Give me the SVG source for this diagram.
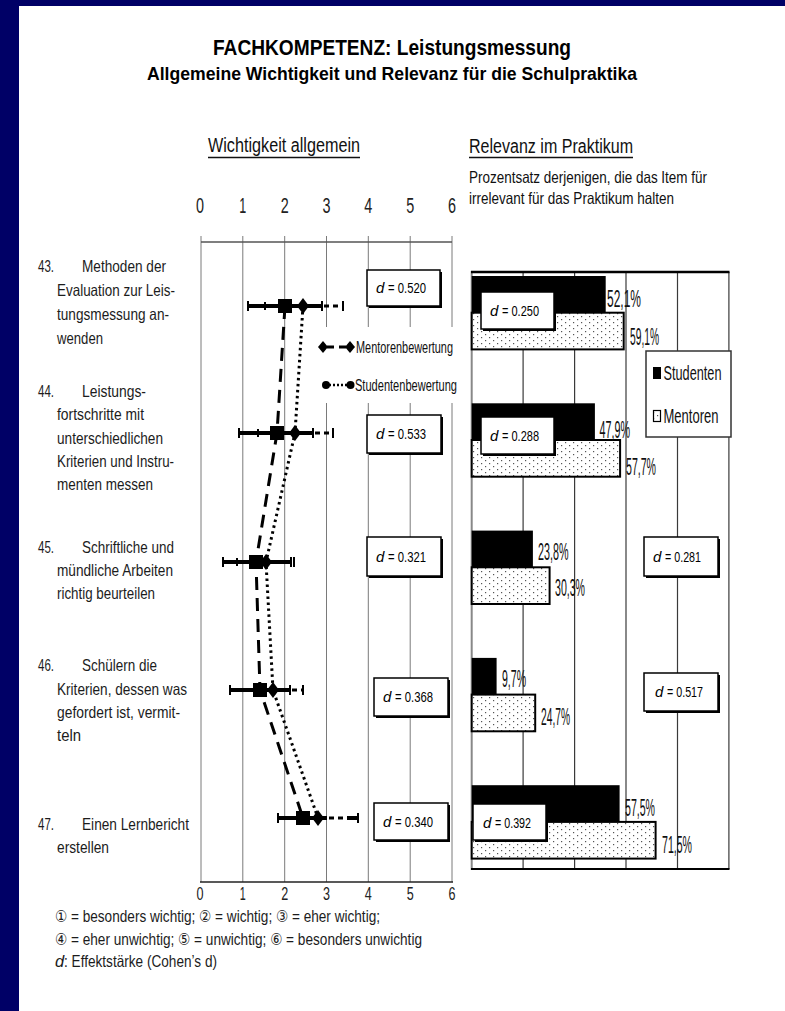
<svg xmlns="http://www.w3.org/2000/svg" width="785" height="1011" viewBox="0 0 785 1011">
<style>
text { font-family: "Liberation Sans", Arial, "DejaVu Sans", sans-serif; fill: #111; }
.title { font-weight: bold; font-size: 22px; fill: #000; }
.sub { font-weight: bold; font-size: 19px; fill: #000; }
.head { font-size: 20px; fill: #111; }
.note { font-size: 16.5px; }
.lbl { font-size: 16.5px; fill: #1c1c1c; }
.tick { font-size: 22px; text-anchor: middle; fill: #222; }
.tickb { font-size: 19px; text-anchor: middle; fill: #222; }
.dtx { font-size: 15px; fill: #000; }
.di { font-size: 15px; fill: #000; font-style: italic; }
.pct { font-size: 23px; fill: #111; }
.leg { font-size: 17px; fill: #111; }
.leg2 { font-size: 20px; fill: #111; }
.fn { font-size: 16.5px; fill: #1c1c1c; }
.grid { stroke: #7a7a7a; stroke-width: 1; }
.gridr { stroke: #3a3a3a; stroke-width: 1.2; }
.bar { fill: #000; }
.mbar { fill: url(#dots); stroke: #000; stroke-width: 2; }
.eb { stroke: #000; stroke-width: 4; }
.cap { stroke: #000; stroke-width: 2; }
.ebd { stroke: #000; stroke-width: 3; stroke-dasharray: 5 4; }
.dbox { fill: #fff; stroke: #000; stroke-width: 1.5; }
.shadow { fill: #000; }
.mline { fill: none; stroke: #000; stroke-width: 3; stroke-dasharray: 13 8; }
.sline { fill: none; stroke: #000; stroke-width: 3; stroke-dasharray: 2.5 3.5; }
.ul { stroke: #111; stroke-width: 1.5; }
</style>
<defs>
  <pattern id="dots" width="8" height="6" patternUnits="userSpaceOnUse">
    <rect width="8" height="6" fill="#fff"/>
    <rect x="1" y="1" width="1.2" height="1.2" fill="#555"/>
    <rect x="5" y="4" width="1.2" height="1.2" fill="#555"/>
  </pattern>
</defs>

<!-- frame -->
<rect x="0" y="0" width="785" height="1011" fill="#000066"/>
<rect x="19" y="6" width="766" height="1005" fill="#ffffff"/>

<!-- titles -->
<g id="titles">
  <text class="title" x="213" y="55" textLength="358" lengthAdjust="spacingAndGlyphs">FACHKOMPETENZ: Leistungsmessung</text>
  <text class="sub" x="147" y="80" textLength="490" lengthAdjust="spacingAndGlyphs">Allgemeine Wichtigkeit und Relevanz für die Schulpraktika</text>
  <text class="head" x="208" y="152" textLength="152" lengthAdjust="spacingAndGlyphs">Wichtigkeit allgemein</text>
  <line class="ul" x1="208" y1="157.5" x2="360" y2="157.5"/>
  <text class="head" x="469" y="153" textLength="164" lengthAdjust="spacingAndGlyphs">Relevanz im Praktikum</text>
  <line class="ul" x1="469" y1="157.5" x2="633" y2="157.5"/>
  <text class="note" x="469" y="182.5" textLength="238" lengthAdjust="spacingAndGlyphs">Prozentsatz derjenigen, die das Item für</text>
  <text class="note" x="469" y="204" textLength="205" lengthAdjust="spacingAndGlyphs">irrelevant für das Praktikum halten</text>
</g>

<!-- left chart axes -->
<g id="left-axes">
  <line class="grid" x1="201" y1="236" x2="201" y2="882"/>
  <line class="grid" x1="242.8" y1="236" x2="242.8" y2="882"/>
  <line class="grid" x1="284.7" y1="236" x2="284.7" y2="882"/>
  <line class="grid" x1="326.5" y1="236" x2="326.5" y2="882"/>
  <line class="grid" x1="368.3" y1="236" x2="368.3" y2="882"/>
  <line class="grid" x1="410.2" y1="236" x2="410.2" y2="882"/>
  <line class="grid" x1="452" y1="236" x2="452" y2="882"/>
  <line x1="201" y1="242" x2="452" y2="242" stroke="#555" stroke-width="1.3"/>
  <line x1="200" y1="882" x2="453" y2="882" stroke="#222" stroke-width="1.5"/>
  <text class="tick" x="200" y="213" textLength="8" lengthAdjust="spacingAndGlyphs">0</text>
  <text class="tick" x="242.8" y="213" textLength="7" lengthAdjust="spacingAndGlyphs">1</text>
  <text class="tick" x="284.7" y="213" textLength="8" lengthAdjust="spacingAndGlyphs">2</text>
  <text class="tick" x="326.5" y="213" textLength="8" lengthAdjust="spacingAndGlyphs">3</text>
  <text class="tick" x="368.3" y="213" textLength="8" lengthAdjust="spacingAndGlyphs">4</text>
  <text class="tick" x="410.2" y="213" textLength="8" lengthAdjust="spacingAndGlyphs">5</text>
  <text class="tick" x="452" y="213" textLength="8" lengthAdjust="spacingAndGlyphs">6</text>
  <text class="tickb" x="200" y="900" textLength="7" lengthAdjust="spacingAndGlyphs">0</text>
  <text class="tickb" x="242.8" y="900" textLength="6" lengthAdjust="spacingAndGlyphs">1</text>
  <text class="tickb" x="284.7" y="900" textLength="7" lengthAdjust="spacingAndGlyphs">2</text>
  <text class="tickb" x="326.5" y="900" textLength="7" lengthAdjust="spacingAndGlyphs">3</text>
  <text class="tickb" x="368.3" y="900" textLength="7" lengthAdjust="spacingAndGlyphs">4</text>
  <text class="tickb" x="410.2" y="900" textLength="7" lengthAdjust="spacingAndGlyphs">5</text>
  <text class="tickb" x="452" y="900" textLength="7" lengthAdjust="spacingAndGlyphs">6</text>
</g>

<!-- right chart axes -->
<g id="right-axes">
  <line class="gridr" x1="523.1" y1="272" x2="523.1" y2="869"/>
  <line class="gridr" x1="574.6" y1="272" x2="574.6" y2="869"/>
  <line class="gridr" x1="626" y1="272" x2="626" y2="869"/>
  <line class="gridr" x1="677.5" y1="272" x2="677.5" y2="869"/>
  <line class="gridr" x1="728.9" y1="272" x2="728.9" y2="869"/>
  <line x1="471.7" y1="271" x2="471.7" y2="870" stroke="#888" stroke-width="2"/>
  <line x1="471" y1="272" x2="729.5" y2="272" stroke="#000" stroke-width="2.5"/>
  <line x1="471" y1="869" x2="729.5" y2="869" stroke="#000" stroke-width="2"/>
</g>

<!-- connectors: profile lines -->
<g id="connectors">
  <polyline class="mline" points="285,306 277,433 256,562 260,690 303,818"/>
  <polyline class="sline" points="303,306 295,433 266,562 273,690 318,818"/>
</g>

<!-- legend left -->
<g id="legend-left">
  <rect x="318" y="327" width="143" height="76" fill="#fff"/>
  <line x1="327" y1="347" x2="346" y2="347" stroke="#000" stroke-width="3" stroke-dasharray="7 5"/>
  <polygon points="323,341 328,347 323,353 318,347" fill="#000"/>
  <polygon points="350,341 355,347 350,353 345,347" fill="#000"/>
  <text class="leg" x="356" y="353" textLength="97" lengthAdjust="spacingAndGlyphs">Mentorenbewertung</text>
  <line x1="329" y1="385" x2="347" y2="385" stroke="#000" stroke-width="2.5" stroke-dasharray="2 2"/>
  <ellipse cx="326" cy="385" rx="4" ry="4" fill="#000"/>
  <ellipse cx="350.5" cy="385" rx="4" ry="4" fill="#000"/>
  <text class="leg" x="355" y="391" textLength="102" lengthAdjust="spacingAndGlyphs">Studentenbewertung</text>
</g>

<!-- legend right -->
<g id="legend-right">
  <rect x="646" y="351" width="85" height="86" fill="#fff" stroke="#333" stroke-width="1.5"/>
  <rect x="653" y="367" width="8" height="12" fill="#000"/>
  <text class="leg2" x="663.5" y="380" textLength="58" lengthAdjust="spacingAndGlyphs">Studenten</text>
  <rect x="653.5" y="410.5" width="7" height="11" fill="url(#dots)" stroke="#000" stroke-width="1.2"/>
  <text class="leg2" x="663.5" y="423" textLength="55" lengthAdjust="spacingAndGlyphs">Mentoren</text>
</g>

<!-- item 43 -->
<g id="item43">
  <text class="lbl" x="38" y="272" textLength="16" lengthAdjust="spacingAndGlyphs">43.</text>
  <text class="lbl" x="82" y="272" textLength="84" lengthAdjust="spacingAndGlyphs">Methoden der</text>
  <text class="lbl" x="57" y="296" textLength="118" lengthAdjust="spacingAndGlyphs">Evaluation zur Leis-</text>
  <text class="lbl" x="57" y="320" textLength="112" lengthAdjust="spacingAndGlyphs">tungsmessung an-</text>
  <text class="lbl" x="57" y="344" textLength="46" lengthAdjust="spacingAndGlyphs">wenden</text>
  <line class="eb" x1="248" y1="306" x2="322" y2="306"/>
  <line class="cap" x1="248" y1="301" x2="248" y2="311"/>
  <line class="cap" x1="322" y1="301" x2="322" y2="311"/>
  <line class="cap" x1="265" y1="302" x2="265" y2="310"/>
  <line class="ebd" x1="324" y1="306" x2="343" y2="306"/>
  <line class="cap" x1="343" y1="301" x2="343" y2="311"/>
  <rect x="278" y="299" width="14" height="14" fill="#000"/>
  <polygon points="303,298 309,306 303,314 297,306" fill="#000"/>
  <rect class="shadow" x="369" y="272" width="73" height="36"/>
  <rect class="dbox" x="367" y="270" width="73" height="36"/>
  <text class="di" x="376" y="293">d</text>
  <text class="dtx" x="388" y="293" textLength="38" lengthAdjust="spacingAndGlyphs">= 0.520</text>
  <rect class="bar" x="471.7" y="276" width="134" height="36.7"/>
  <rect class="mbar" x="471.7" y="312.7" width="152" height="36.7"/>
  <text class="pct" x="607" y="306.5" textLength="34" lengthAdjust="spacingAndGlyphs">52,1%</text>
  <text class="pct" x="630" y="345" textLength="29" lengthAdjust="spacingAndGlyphs">59,1%</text>
  <rect class="shadow" x="483" y="294" width="73" height="37"/>
  <rect class="dbox" x="481" y="292" width="73" height="37"/>
  <text class="di" x="490" y="315.5">d</text>
  <text class="dtx" x="502" y="315.5" textLength="37" lengthAdjust="spacingAndGlyphs">= 0.250</text>
</g>

<!-- item 44 -->
<g id="item44">
  <text class="lbl" x="38" y="397" textLength="16" lengthAdjust="spacingAndGlyphs">44.</text>
  <text class="lbl" x="82" y="397" textLength="64" lengthAdjust="spacingAndGlyphs">Leistungs-</text>
  <text class="lbl" x="57" y="420" textLength="87" lengthAdjust="spacingAndGlyphs">fortschritte mit</text>
  <text class="lbl" x="57" y="444" textLength="106" lengthAdjust="spacingAndGlyphs">unterschiedlichen</text>
  <text class="lbl" x="57" y="467" textLength="117" lengthAdjust="spacingAndGlyphs">Kriterien und Instru-</text>
  <text class="lbl" x="57" y="490" textLength="96" lengthAdjust="spacingAndGlyphs">menten messen</text>
  <line class="eb" x1="239" y1="433" x2="313" y2="433"/>
  <line class="cap" x1="239" y1="428" x2="239" y2="438"/>
  <line class="cap" x1="313" y1="428" x2="313" y2="438"/>
  <line class="cap" x1="258" y1="429" x2="258" y2="437"/>
  <line class="ebd" x1="315" y1="433" x2="333" y2="433"/>
  <line class="cap" x1="333" y1="428" x2="333" y2="438"/>
  <rect x="270" y="426" width="14" height="14" fill="#000"/>
  <polygon points="295,425 301,433 295,441 289,433" fill="#000"/>
  <rect class="shadow" x="369" y="417" width="74" height="38"/>
  <rect class="dbox" x="367" y="415" width="74" height="38"/>
  <text class="di" x="376" y="439">d</text>
  <text class="dtx" x="388" y="439" textLength="38" lengthAdjust="spacingAndGlyphs">= 0.533</text>
  <rect class="bar" x="471.7" y="403.3" width="123.2" height="36.7"/>
  <rect class="mbar" x="471.7" y="440" width="148.4" height="36.7"/>
  <text class="pct" x="599.5" y="438" textLength="30.5" lengthAdjust="spacingAndGlyphs">47,9%</text>
  <text class="pct" x="626" y="475" textLength="30" lengthAdjust="spacingAndGlyphs">57,7%</text>
  <rect class="shadow" x="483" y="419" width="73" height="37"/>
  <rect class="dbox" x="481" y="417" width="73" height="37"/>
  <text class="di" x="490" y="440.5">d</text>
  <text class="dtx" x="502" y="440.5" textLength="37" lengthAdjust="spacingAndGlyphs">= 0.288</text>
</g>

<!-- item 45 -->
<g id="item45">
  <text class="lbl" x="38" y="553" textLength="16" lengthAdjust="spacingAndGlyphs">45.</text>
  <text class="lbl" x="82" y="553" textLength="92" lengthAdjust="spacingAndGlyphs">Schriftliche und</text>
  <text class="lbl" x="57" y="576" textLength="116" lengthAdjust="spacingAndGlyphs">mündliche Arbeiten</text>
  <text class="lbl" x="57" y="599" textLength="98" lengthAdjust="spacingAndGlyphs">richtig beurteilen</text>
  <line class="eb" x1="223" y1="562" x2="291" y2="562"/>
  <line class="cap" x1="223" y1="557" x2="223" y2="567"/>
  <line class="cap" x1="291" y1="557" x2="291" y2="567"/>
  <line class="cap" x1="237" y1="558" x2="237" y2="566"/>
  <line class="cap" x1="294" y1="557" x2="294" y2="567"/>
  <rect x="249" y="555" width="14" height="14" fill="#000"/>
  <polygon points="266,554 272,562 266,570 260,562" fill="#000"/>
  <rect class="shadow" x="369" y="539" width="74" height="39"/>
  <rect class="dbox" x="367" y="537" width="74" height="39"/>
  <text class="di" x="376" y="561.5">d</text>
  <text class="dtx" x="388" y="561.5" textLength="38" lengthAdjust="spacingAndGlyphs">= 0.321</text>
  <rect class="bar" x="471.7" y="530.6" width="61.2" height="36.7"/>
  <rect class="mbar" x="471.7" y="567.3" width="77.9" height="36.7"/>
  <text class="pct" x="538" y="560" textLength="30.5" lengthAdjust="spacingAndGlyphs">23,8%</text>
  <text class="pct" x="555" y="596" textLength="30" lengthAdjust="spacingAndGlyphs">30,3%</text>
  <rect class="shadow" x="646" y="539" width="74" height="39"/>
  <rect class="dbox" x="644" y="537" width="74" height="39"/>
  <text class="di" x="653" y="561.5">d</text>
  <text class="dtx" x="665" y="561.5" textLength="36" lengthAdjust="spacingAndGlyphs">= 0.281</text>
</g>

<!-- item 46 -->
<g id="item46">
  <text class="lbl" x="38" y="671" textLength="16" lengthAdjust="spacingAndGlyphs">46.</text>
  <text class="lbl" x="82" y="671" textLength="75" lengthAdjust="spacingAndGlyphs">Schülern die</text>
  <text class="lbl" x="57" y="695" textLength="130" lengthAdjust="spacingAndGlyphs">Kriterien, dessen was</text>
  <text class="lbl" x="57" y="718" textLength="123" lengthAdjust="spacingAndGlyphs">gefordert ist, vermit-</text>
  <text class="lbl" x="57" y="741" textLength="24" lengthAdjust="spacingAndGlyphs">teln</text>
  <line class="eb" x1="230" y1="690" x2="290" y2="690"/>
  <line class="cap" x1="230" y1="685" x2="230" y2="695"/>
  <line class="cap" x1="290" y1="685" x2="290" y2="695"/>
  <line class="ebd" x1="292" y1="690" x2="303" y2="690"/>
  <line class="cap" x1="303" y1="685" x2="303" y2="695"/>
  <rect x="253" y="683" width="14" height="14" fill="#000"/>
  <polygon points="273,682 279,690 273,698 267,690" fill="#000"/>
  <rect class="shadow" x="376" y="680" width="74" height="38"/>
  <rect class="dbox" x="374" y="678" width="74" height="38"/>
  <text class="di" x="383" y="702">d</text>
  <text class="dtx" x="395" y="702" textLength="38" lengthAdjust="spacingAndGlyphs">= 0.368</text>
  <rect class="bar" x="471.7" y="657.9" width="24.9" height="36.7"/>
  <rect class="mbar" x="471.7" y="694.6" width="63.5" height="36.7"/>
  <text class="pct" x="502" y="686.5" textLength="24" lengthAdjust="spacingAndGlyphs">9,7%</text>
  <text class="pct" x="541" y="725" textLength="29" lengthAdjust="spacingAndGlyphs">24,7%</text>
  <rect class="shadow" x="646" y="675" width="74" height="38"/>
  <rect class="dbox" x="644" y="673" width="74" height="38"/>
  <text class="di" x="655" y="697">d</text>
  <text class="dtx" x="667" y="697" textLength="36" lengthAdjust="spacingAndGlyphs">= 0.517</text>
</g>

<!-- item 47 -->
<g id="item47">
  <text class="lbl" x="38" y="830" textLength="16" lengthAdjust="spacingAndGlyphs">47.</text>
  <text class="lbl" x="82" y="830" textLength="107" lengthAdjust="spacingAndGlyphs">Einen Lernbericht</text>
  <text class="lbl" x="57" y="853" textLength="52" lengthAdjust="spacingAndGlyphs">erstellen</text>
  <line class="eb" x1="278" y1="818" x2="327" y2="818"/>
  <line class="cap" x1="278" y1="813" x2="278" y2="823"/>
  <line class="ebd" x1="329" y1="818" x2="347" y2="818"/>
  <line class="eb" x1="347" y1="818" x2="357" y2="818"/>
  <line class="cap" x1="358" y1="813" x2="358" y2="823"/>
  <rect x="296" y="811" width="14" height="14" fill="#000"/>
  <polygon points="318,810 324,818 318,826 312,818" fill="#000"/>
  <rect class="shadow" x="376" y="805" width="74" height="37"/>
  <rect class="dbox" x="374" y="803" width="74" height="37"/>
  <text class="di" x="383" y="826.5">d</text>
  <text class="dtx" x="395" y="826.5" textLength="38" lengthAdjust="spacingAndGlyphs">= 0.340</text>
  <rect class="bar" x="471.7" y="785.2" width="147.9" height="36.7"/>
  <rect class="mbar" x="471.7" y="821.9" width="183.9" height="36.7"/>
  <text class="pct" x="625" y="816" textLength="30" lengthAdjust="spacingAndGlyphs">57,5%</text>
  <text class="pct" x="662" y="853" textLength="30" lengthAdjust="spacingAndGlyphs">71,5%</text>
  <rect class="shadow" x="475" y="806" width="73" height="36"/>
  <rect class="dbox" x="473" y="804" width="73" height="36"/>
  <text class="di" x="483" y="827.5">d</text>
  <text class="dtx" x="495" y="827.5" textLength="36" lengthAdjust="spacingAndGlyphs">= 0.392</text>
</g>

<!-- footnote -->
<g id="footnote">
  <text class="fn" x="55" y="922" textLength="325" lengthAdjust="spacingAndGlyphs">① = besonders wichtig; ② = wichtig; ③ = eher wichtig;</text>
  <text class="fn" x="55" y="944.5" textLength="367" lengthAdjust="spacingAndGlyphs">④ = eher unwichtig; ⑤ = unwichtig; ⑥ = besonders unwichtig</text>
  <text class="fn" x="55" y="967" font-style="italic">d</text>
  <text class="fn" x="64" y="967" textLength="153" lengthAdjust="spacingAndGlyphs">: Effektstärke (Cohen’s d)</text>
</g>
</svg>
